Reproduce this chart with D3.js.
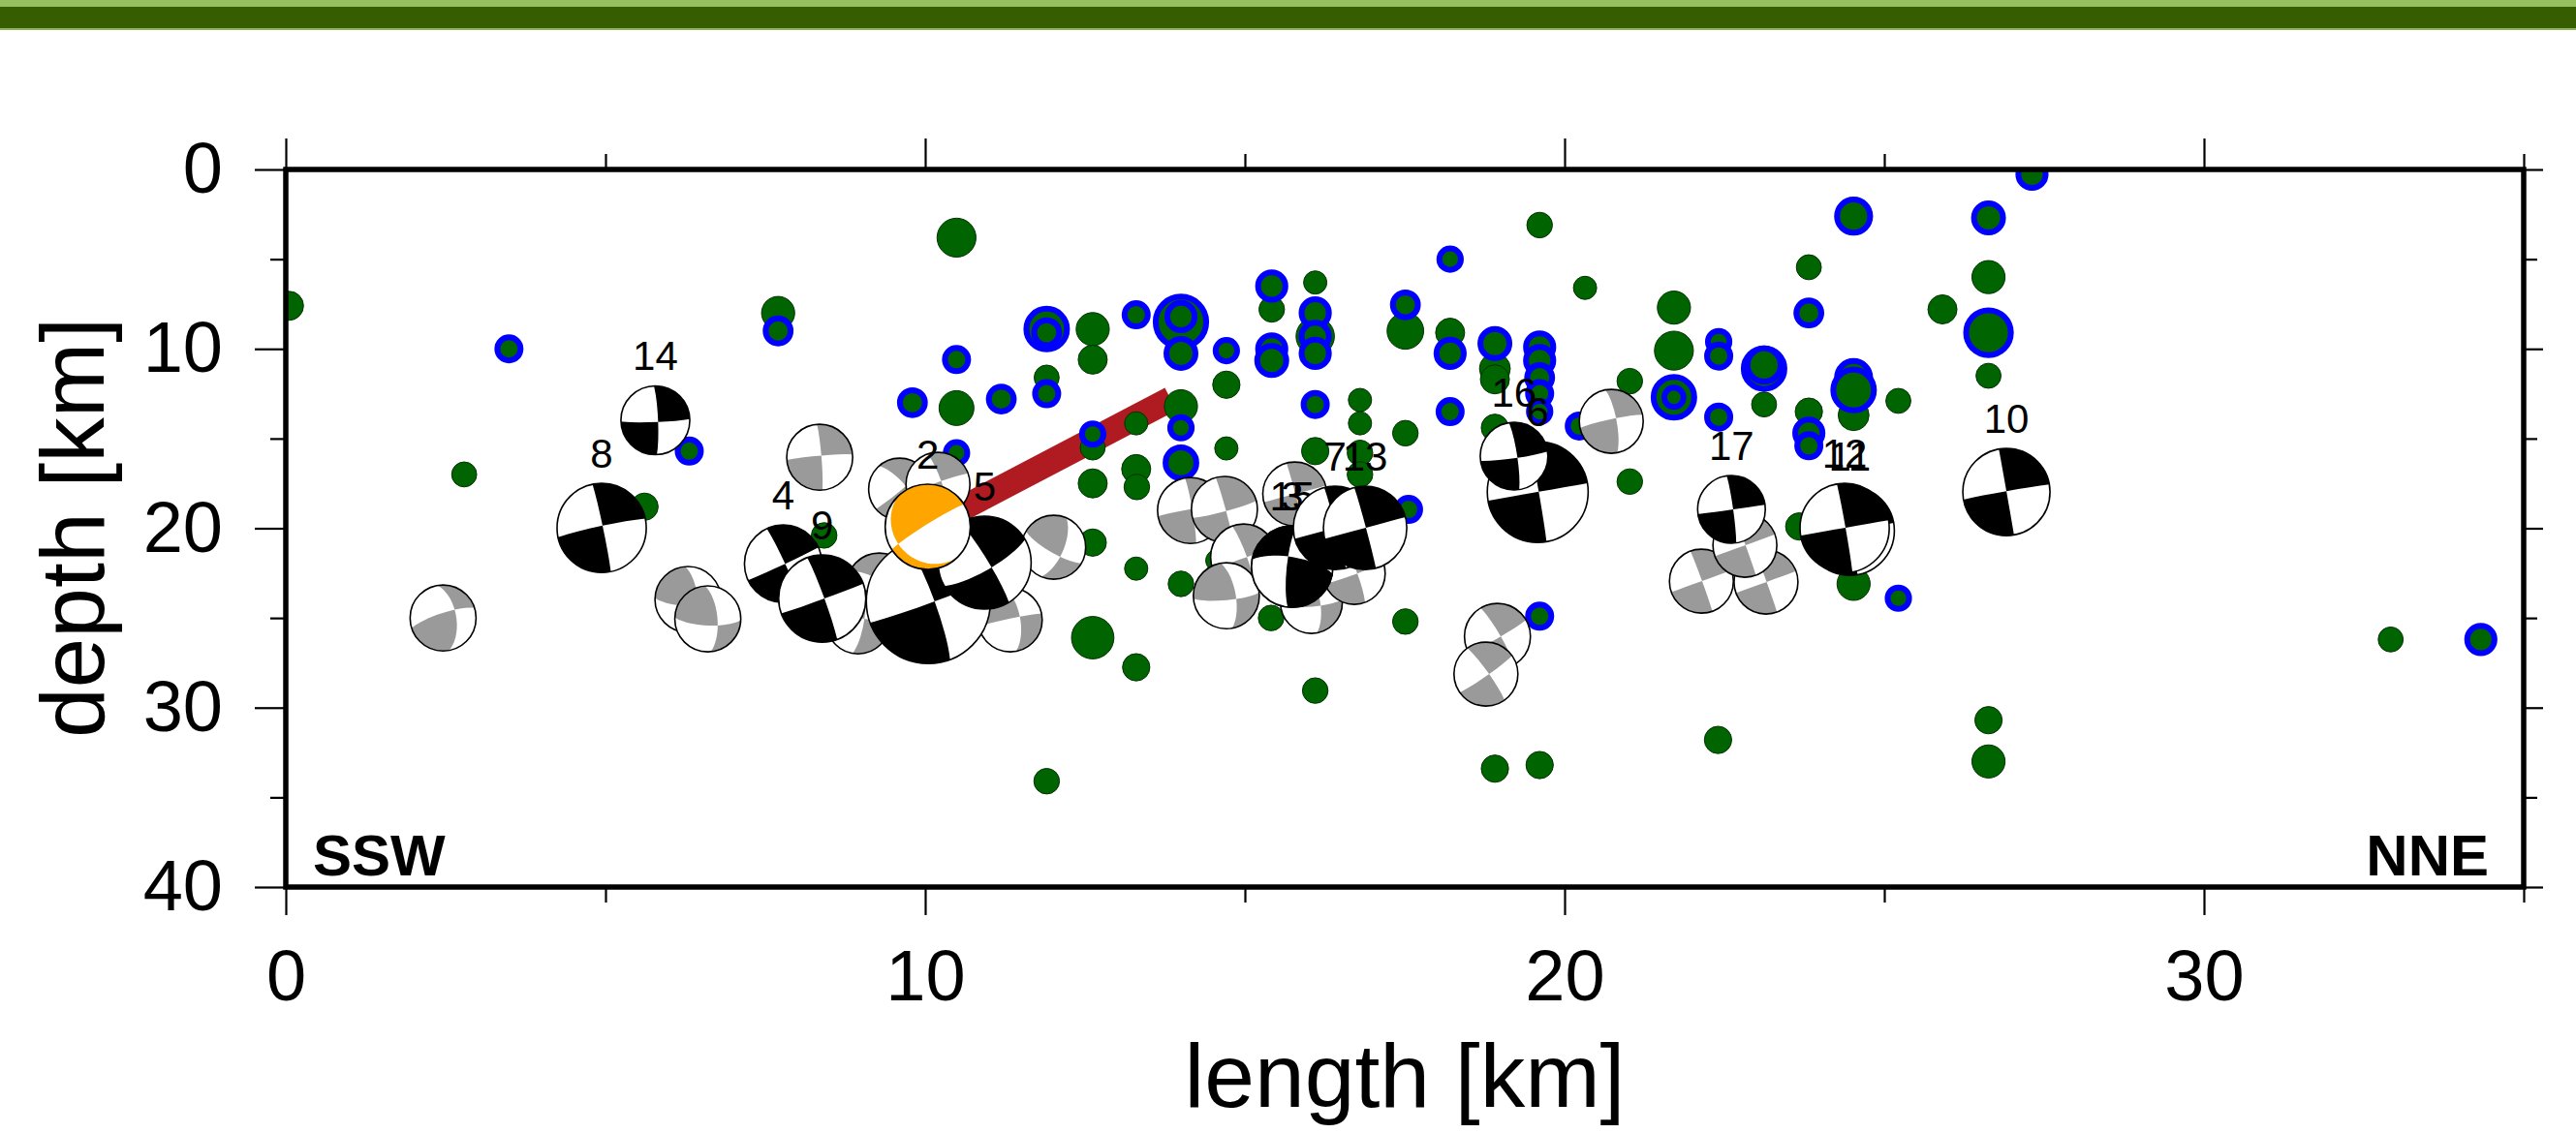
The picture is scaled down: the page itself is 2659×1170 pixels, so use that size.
<!DOCTYPE html>
<html>
<head>
<meta charset="utf-8">
<script src="https://cdn.jsdelivr.net/npm/d3@7"></script>
<style>
html, body { margin: 0; padding: 0; background: #fff; }
svg { display: block; font-family: "Liberation Sans", Arial, Helvetica, sans-serif; }
</style>
</head>
<body>
<div class="viz"></div>
<script>
// ---- data (length along profile [km], depth [km], magnitude) ----
var xMajor = [0, 10, 20, 30];
var xMinor = [5, 15, 25, 35];
var yMajor = [0, 10, 20, 30, 40];
var yMinor = [5, 15, 25, 35];

// plain hypocentres: [length, depth, mag]
var greenQuakes = [
  [0.05, 7.6, 1.5], [2.79, 17.0, 1.15], [5.61, 18.8, 1.35], [7.70, 8.0, 1.85],
  [8.42, 20.4, 1.2], [10.49, 3.8, 2.35], [10.49, 13.3, 2.0], [11.90, 11.6, 1.15],
  [12.62, 8.9, 1.85], [12.62, 10.6, 1.5], [12.62, 15.5, 1.15], [12.62, 17.5, 1.5],
  [12.62, 20.8, 1.35], [12.62, 26.1, 2.65], [13.30, 14.15, 1.0], [13.30, 16.7, 1.5],
  [13.31, 17.7, 1.2], [13.30, 22.25, 1.0], [13.30, 27.75, 1.35], [11.90, 34.1, 1.2],
  [14.00, 13.2, 1.85], [14.00, 23.1, 1.2], [14.71, 12.0, 1.35], [14.71, 15.55, 1.0],
  [14.56, 21.8, 0.9], [15.42, 7.8, 1.2], [15.41, 25.0, 1.2], [16.10, 6.3, 1.0],
  [16.10, 9.3, 2.3], [16.10, 15.7, 1.35], [16.10, 29.05, 1.2], [16.80, 12.85, 1.0],
  [16.80, 14.15, 1.0], [16.80, 15.8, 1.2], [16.80, 17.0, 1.2], [17.51, 14.7, 1.2],
  [17.51, 25.2, 1.2], [17.51, 9.0, 2.15], [18.21, 9.1, 1.5], [18.91, 11.1, 1.65],
  [18.91, 11.7, 1.5], [18.91, 14.4, 1.35], [18.91, 33.4, 1.35], [19.61, 3.1, 1.2],
  [19.61, 33.2, 1.35], [20.32, 6.6, 1.0], [21.02, 11.8, 1.2], [21.02, 17.4, 1.2],
  [21.71, 7.7, 1.85], [21.71, 10.1, 2.35], [22.40, 31.8, 1.35], [23.12, 13.1, 1.15],
  [23.82, 5.45, 1.15], [23.82, 13.5, 1.35], [23.67, 19.9, 1.35], [24.52, 13.7, 1.65],
  [24.52, 23.1, 1.85], [25.22, 12.9, 1.15], [25.91, 7.8, 1.5], [26.63, 6.0, 1.85],
  [26.63, 11.5, 1.15], [26.63, 30.7, 1.35], [26.63, 33.0, 1.85], [32.92, 26.2, 1.15]
];

// relocated hypocentres (blue ring): [length, depth, mag]
var ringQuakes = [
  [3.49, 10.0, 1.5], [6.31, 15.7, 1.5], [7.70, 9.0, 1.65], [9.80, 13.0, 1.65],
  [10.49, 10.6, 1.5], [10.49, 15.8, 1.35], [11.19, 12.8, 1.65], [11.90, 8.9, 3.0],
  [11.90, 9.1, 1.65], [11.90, 12.5, 1.5], [12.62, 14.75, 1.35], [13.30, 8.1, 1.5],
  [14.00, 8.5, 3.85], [14.00, 8.2, 1.85], [14.00, 10.25, 2.0], [14.00, 14.4, 1.35],
  [14.00, 16.35, 2.15], [14.71, 10.1, 1.35], [15.42, 6.5, 1.85], [15.42, 10.0, 1.85],
  [15.42, 10.65, 2.0], [16.10, 8.0, 1.85], [16.10, 9.3, 1.85], [16.10, 10.25, 1.85],
  [16.10, 13.1, 1.5], [17.51, 7.55, 1.65], [17.56, 18.95, 1.5], [18.21, 5.0, 1.35],
  [18.21, 10.25, 1.85], [18.21, 13.5, 1.5], [18.91, 9.7, 2.0], [19.61, 9.9, 1.85],
  [19.61, 10.65, 1.85], [19.61, 11.6, 1.65], [19.61, 12.5, 1.5], [19.61, 13.5, 1.35],
  [19.61, 24.9, 1.5], [20.23, 14.3, 1.5], [21.71, 12.7, 3.0], [21.71, 12.7, 1.15],
  [22.41, 9.6, 1.35], [22.41, 10.4, 1.5], [22.41, 13.8, 1.5], [23.12, 11.1, 3.0],
  [23.12, 10.9, 2.35], [23.82, 8.0, 1.65], [23.82, 14.7, 1.85], [23.82, 15.4, 1.5],
  [24.52, 2.6, 2.35], [24.52, 11.6, 2.35], [24.52, 12.3, 3.0], [25.22, 23.9, 1.35],
  [26.63, 2.7, 2.0], [26.63, 9.1, 3.35], [27.31, 0.27, 1.85], [34.33, 26.2, 1.85]
];

// projected fault trace: [length, depth]
var faultTrace = [[10.04, 19.9], [13.84, 12.8]];

// other focal mechanisms (grey): [length, depth, mag, strike-on-section, nullX, nullY, flip]
var greyMechs = [
  [2.46, 25.0, 3.27, 100, 0.35, 0.25, 1], [6.29, 23.97, 3.27, 95, 0.3, -0.2, 0],
  [6.60, 25.05, 3.27, 95, 0.3, -0.2, 0], [8.35, 16.04, 3.27, 5, 0.05, 0.05, 0],
  [9.60, 17.82, 3.13, 40, 0.2, 0.1, 0], [10.20, 17.55, 3.2, 20, 0.1, 0.1, 0],
  [12.01, 21.06, 3.2, 150, 0.2, -0.3, 1], [11.33, 25.11, 3.2, 100, 0.3, 0.1, 0],
  [9.28, 23.22, 3.27, 60, 0.2, 0.1, 0], [8.95, 25.22, 3.2, 80, 0.2, 0.1, 0],
  [14.15, 19.01, 3.27, 10, 0.05, 0.05, 0], [14.68, 18.95, 3.27, 15, 0.05, -0.05, 0],
  [14.98, 21.6, 3.27, 20, 0.1, 0.0, 0], [14.71, 23.76, 3.27, 100, 0.3, -0.1, 0],
  [16.04, 24.14, 3.13, 100, 0.3, -0.1, 0], [16.71, 22.52, 3.13, 20, 0.1, 0.0, 0],
  [20.73, 14.04, 3.2, 12, 0.15, 0.1, 0], [18.95, 26.03, 3.27, 30, 0.1, 0.0, 0],
  [18.77, 28.13, 3.2, 35, 0.1, 0.0, 0], [22.14, 22.95, 3.2, 20, 0.0, 0.0, 0],
  [23.15, 23.0, 3.2, 20, 0.0, 0.0, 0], [22.82, 20.95, 3.2, 20, 0.0, 0.0, 0],
  [15.78, 18.09, 3.2, 15, 0.0, 0.0, 0]
];

// numbered focal mechanisms, in drawing order: [label, length, depth, mag, strike-on-section, nullX, nullY, flip]
var numberedMechs = [
  ["14", 5.78, 13.98, 3.37, 2, 0.08, -0.05, 0],
  ["8", 4.94, 19.98, 4.07, 12, 0.02, 0.05, 0],
  ["4", 7.78, 21.98, 3.67, 25, 0.05, 0.0, 0],
  ["9", 8.39, 23.92, 4.0, 20, 0.05, 0.0, 0],
  ["1", 10.05, 24.08, 5.27, 20, 0.1, 0.0, 0],
  ["5", 10.93, 21.92, 4.2, 30, 0.15, -0.1, 0],
  ["2", 10.04, 19.92, 3.93, 32, -0.69, -0.4, 0],
  ["3", 15.74, 22.14, 3.8, 170, -0.1, 0.25, 1],
  ["15", 15.74, 22.14, 3.8, 170, -0.1, 0.25, 1],
  ["7", 16.41, 19.98, 3.87, 15, 0.0, 0.0, 0],
  ["13", 16.88, 19.98, 3.87, 15, 0.0, 0.0, 0],
  ["6", 19.58, 17.98, 4.47, 10, 0.0, 0.0, 0],
  ["16", 19.21, 15.98, 3.33, 8, 0.1, -0.05, 0],
  ["17", 22.61, 18.95, 3.33, 8, 0.05, 0.0, 0],
  ["11", 24.46, 20.14, 4.07, 10, 0.0, 0.0, 0],
  ["12", 24.38, 19.98, 4.07, 10, 0.0, 0.0, 0],
  ["10", 26.91, 17.98, 4.0, 10, 0.0, 0.02, 0]
];

// ---- layout ----
var W = 2659, H = 1170;
var margin = { top: 175, right: 54, bottom: 254, left: 295 };
var width = W - margin.left - margin.right, height = H - margin.top - margin.bottom;

var svg = d3.select('.viz').append('svg')
    .attr('width', W)
    .attr('height', H);

// header band
svg.append('rect').attr('x', 0).attr('y', 0).attr('width', W).attr('height', 8).attr('fill', '#96bf5f');
svg.append('rect').attr('x', 0).attr('y', 7).attr('width', W).attr('height', 22).attr('fill', '#365e00');
svg.append('rect').attr('x', 0).attr('y', 29).attr('width', W).attr('height', 2).attr('fill', '#8db15a');

var x = d3.scaleLinear().domain([0, 35]).range([0, width]);
var y = d3.scaleLinear().domain([0, 40]).range([0, height]);
var dotR = d3.scaleLinear().domain([1, 3]).range([12, 24]);
var ballR = d3.scaleLinear().domain([3, 5]).range([30, 60]);

var g = svg.append('g').attr('transform', 'translate(' + margin.left + ',' + margin.top + ')');

svg.append('defs').append('clipPath').attr('id', 'plotClip')
  .append('rect').attr('x', 0).attr('y', 0).attr('width', width).attr('height', height);

var plot = g.append('g').attr('clip-path', 'url(#plotClip)');

// fault trace
plot.append('path')
    .attr('d', d3.line().x(function(d) { return x(d[0]); }).y(function(d) { return y(d[1]); })(faultTrace))
    .attr('stroke', '#b01b21')
    .attr('stroke-width', 26)
    .attr('fill', 'none');

// hypocentres
plot.selectAll('.quake')
    .data(greenQuakes)
    .enter().append('circle')
    .attr('class', 'quake')
    .attr('cx', function(d) { return x(d[0]); })
    .attr('cy', function(d) { return y(d[1]); })
    .attr('r', function(d) { return dotR(d[2]); })
    .attr('fill', '#006400')
    .attr('stroke', '#003300')
    .attr('stroke-width', 1);

plot.selectAll('.reloc')
    .data(ringQuakes)
    .enter().append('circle')
    .attr('class', 'reloc')
    .attr('cx', function(d) { return x(d[0]); })
    .attr('cy', function(d) { return y(d[1]); })
    .attr('r', function(d) { return dotR(d[2]) - 3; })
    .attr('fill', '#006400')
    .attr('stroke', '#0000ff')
    .attr('stroke-width', 6);

// ---- focal mechanism helpers ----
function norm(v) { var l = Math.hypot(v[0], v[1], v[2]); return [v[0] / l, v[1] / l, v[2] / l]; }
function cross(a, b) { return [a[1] * b[2] - a[2] * b[1], a[2] * b[0] - a[0] * b[2], a[0] * b[1] - a[1] * b[0]]; }
function neg(v) { return [-v[0], -v[1], -v[2]]; }
function toLonLat(v) {
    return [Math.atan2(v[0], v[2]) * 180 / Math.PI, Math.asin(Math.max(-1, Math.min(1, v[1]))) * 180 / Math.PI];
}

// compressional quadrants as spherical lunes, viewed from the side
function quadrants(strike, nx, ny, flip) {
    var c = Math.hypot(nx, ny);
    if (c < 0.02) { nx = 0.02; ny = 0.005; c = Math.hypot(nx, ny); }
    var th = 2 * Math.asin(Math.min(c, 0.98) / Math.SQRT2), s = Math.sin(th) / c;
    var B = [nx * s, ny * s, Math.cos(th)];
    var a = strike * Math.PI / 180, u = [Math.cos(a), Math.sin(a), 0];
    var n = norm(cross(B, u)), dv = norm(cross(n, B));
    var quads = flip ? [[B, dv, neg(B), neg(n)], [B, neg(dv), neg(B), n]]
                     : [[B, dv, neg(B), n], [B, neg(dv), neg(B), neg(n)]];
    return quads.map(function(q) {
        var ring = q.map(toLonLat);
        ring.push(ring[0]);
        var poly = { type: 'Polygon', coordinates: [ring] };
        if (d3.geoArea(poly) > 2 * Math.PI) ring.reverse();
        return poly;
    });
}

// clip just inside the hemisphere so the clip start point never sits on a nodal line
var CLIP = 89.6;
function drawMech(parent, cx, cy, r, strike, nx, ny, flip, colour) {
    var proj = d3.geoAzimuthalEqualArea()
        .scale(r / (2 * Math.sin(CLIP * Math.PI / 360)))
        .translate([0, 0])
        .clipAngle(CLIP)
        .precision(0.1);
    var path = d3.geoPath(proj);
    var mg = parent.append('g').attr('class', 'mech').attr('transform', 'translate(' + cx + ',' + cy + ')');
    mg.append('circle').attr('r', r).attr('fill', '#fff');
    quadrants(strike, nx, ny, flip).forEach(function(p) {
        mg.append('path').attr('d', path(p)).attr('fill', colour);
    });
    mg.append('circle').attr('r', r).attr('fill', 'none').attr('stroke', '#000').attr('stroke-width', 1.6);
}

var mechLayer = g.append('g');
greyMechs.forEach(function(m) {
    drawMech(mechLayer, x(m[0]), y(m[1]), ballR(m[2]), m[3], m[4], m[5], m[6], '#9a9a9a');
});
numberedMechs.forEach(function(m) {
    var r = ballR(m[3]);
    drawMech(mechLayer, x(m[1]), y(m[2]), r, m[4], m[5], m[6], m[7], m[0] === '2' ? '#ffa500' : '#000');
    mechLayer.append('text')
        .attr('x', x(m[1]))
        .attr('y', y(m[2]) - r - 16)
        .attr('text-anchor', 'middle')
        .attr('font-size', 42)
        .attr('fill', '#000')
        .text(m[0]);
});

// ---- axes ----
function styleAxis(sel) {
    sel.select('.domain').remove();
    sel.selectAll('.tick line').attr('stroke', '#000').attr('stroke-width', 2.2);
    sel.selectAll('.tick text').attr('font-size', 74).attr('fill', '#000')
        .attr('font-family', '"Liberation Sans", Arial, Helvetica, sans-serif');
}

g.append('g').attr('transform', 'translate(0,' + height + ')')
    .call(d3.axisBottom(x).tickValues(xMajor).tickSize(29).tickPadding(35).tickFormat(d3.format('d')))
    .call(styleAxis);
g.append('g').attr('transform', 'translate(0,' + height + ')')
    .call(d3.axisBottom(x).tickValues(xMinor).tickSize(16).tickFormat(''))
    .call(styleAxis);
g.append('g')
    .call(d3.axisTop(x).tickValues(xMajor).tickSize(32).tickFormat(''))
    .call(styleAxis);
g.append('g')
    .call(d3.axisTop(x).tickValues(xMinor).tickSize(16).tickFormat(''))
    .call(styleAxis);
g.append('g')
    .call(d3.axisLeft(y).tickValues(yMajor).tickSize(32).tickPadding(33).tickFormat(d3.format('d')))
    .call(styleAxis);
g.append('g')
    .call(d3.axisLeft(y).tickValues(yMinor).tickSize(16).tickFormat(''))
    .call(styleAxis);
g.append('g').attr('transform', 'translate(' + width + ',0)')
    .call(d3.axisRight(y).tickValues(yMajor).tickSize(20).tickFormat(''))
    .call(styleAxis);
g.append('g').attr('transform', 'translate(' + width + ',0)')
    .call(d3.axisRight(y).tickValues(yMinor).tickSize(14).tickFormat(''))
    .call(styleAxis);

// frame
g.append('rect')
    .attr('x', 0).attr('y', 0).attr('width', width).attr('height', height)
    .attr('fill', 'none').attr('stroke', '#000').attr('stroke-width', 5.5);

// axis titles
g.append('text')
    .attr('x', width / 2).attr('y', 968)
    .attr('text-anchor', 'middle').attr('font-size', 93).attr('fill', '#000')
    .text('length [km]');
g.append('text')
    .attr('transform', 'translate(' + (107 - margin.left) + ',' + (545 - margin.top) + ') rotate(-90)')
    .attr('text-anchor', 'middle').attr('font-size', 93).attr('fill', '#000')
    .text('depth [km]');

// profile ends
g.append('text')
    .attr('x', 28).attr('y', height - 12)
    .attr('font-size', 60).attr('font-weight', 'bold').attr('fill', '#000')
    .text('SSW');
g.append('text')
    .attr('x', width - 36).attr('y', height - 12)
    .attr('text-anchor', 'end').attr('font-size', 60).attr('font-weight', 'bold').attr('fill', '#000')
    .text('NNE');
</script>
</body>
</html>
